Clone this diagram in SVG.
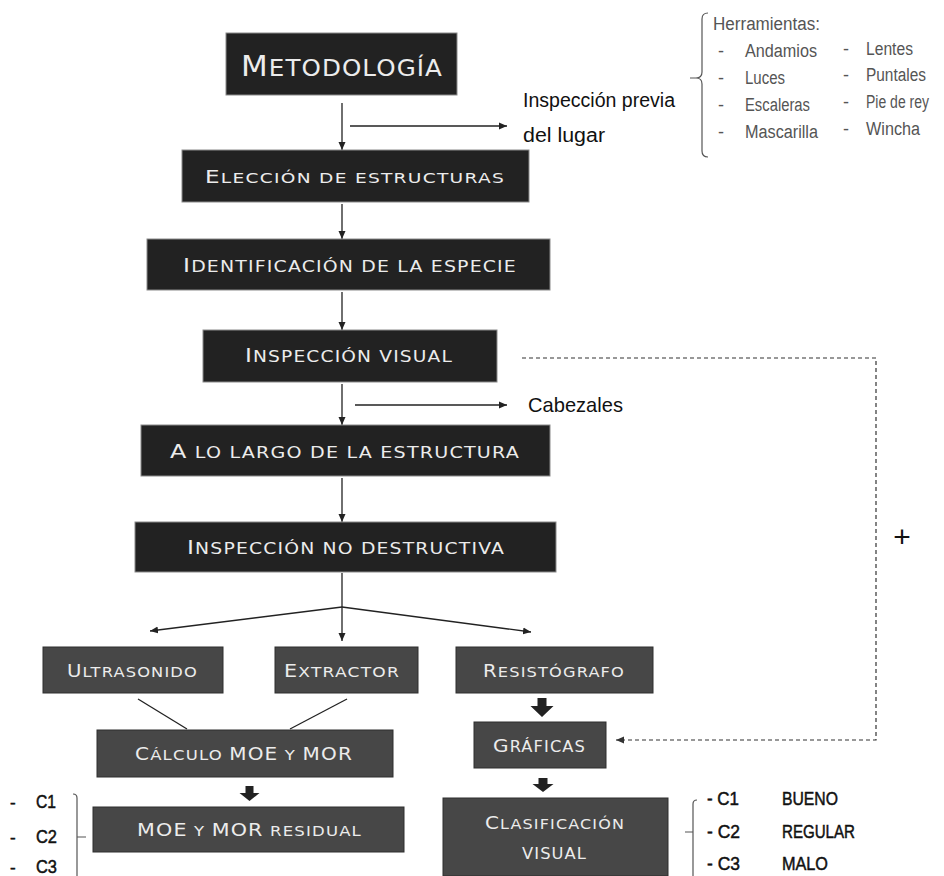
<svg xmlns="http://www.w3.org/2000/svg" width="944" height="876" viewBox="0 0 944 876">
<defs>
<marker id="ah" markerUnits="userSpaceOnUse" markerWidth="9" markerHeight="8" refX="8" refY="4" orient="auto">
<path d="M0,0.5 L8,4 L0,7.5 z" fill="#222"/>
</marker>
<marker id="ahd" markerUnits="userSpaceOnUse" markerWidth="9" markerHeight="8" refX="8" refY="4" orient="auto">
<path d="M0,0.5 L8,4 L0,7.5 z" fill="#333"/>
</marker>
</defs>
<style>
.bk{fill:#222222;stroke:#8a8a8a;stroke-width:1}
.gr{fill:#474747;stroke:#2e2e2e;stroke-width:1}
.lbl{font-family:"DejaVu Sans",sans-serif;fill:#ececec;letter-spacing:1px}
.ln{stroke:#222;stroke-width:1.3;fill:none}
.dash{stroke:#333;stroke-width:1.2;fill:none;stroke-dasharray:4 3}
.fat{fill:#222}
.br{stroke:#555;stroke-width:1.2;fill:none}
.blk{font-family:"Liberation Sans",sans-serif;fill:#111}
.bold{stroke:#111;stroke-width:0.5}
.gry{font-family:"Liberation Sans",sans-serif;fill:#555;font-size:18px}
</style>

<g id="connectors">
<line class="ln" x1="342" y1="103" x2="342" y2="150" marker-end="url(#ah)"/>
<line class="ln" x1="350" y1="126" x2="507" y2="126" marker-end="url(#ah)"/>
<line class="ln" x1="342" y1="204" x2="342" y2="239" marker-end="url(#ah)"/>
<line class="ln" x1="342" y1="292" x2="342" y2="330" marker-end="url(#ah)"/>
<line class="ln" x1="342" y1="384" x2="342" y2="425" marker-end="url(#ah)"/>
<line class="ln" x1="355" y1="405" x2="507" y2="405" marker-end="url(#ah)"/>
<line class="ln" x1="342" y1="478" x2="342" y2="522" marker-end="url(#ah)"/>
<line class="ln" x1="342" y1="573" x2="342" y2="607"/>
<line class="ln" x1="342" y1="607" x2="150" y2="631" marker-end="url(#ah)"/>
<line class="ln" x1="342" y1="607" x2="342" y2="641" marker-end="url(#ah)"/>
<line class="ln" x1="342" y1="607" x2="531" y2="632" marker-end="url(#ah)"/>
<line class="ln" x1="138" y1="699" x2="187" y2="729"/>
<line class="ln" x1="347" y1="699" x2="290" y2="729"/>
<path class="dash" d="M522,358 H876 V740 H616" marker-end="url(#ahd)"/>
<path class="fat" d="M245.5,786 h8 v7 h6 l-10,8 l-10,-8 h6 z"/>
<path class="fat" d="M537.5,698 h9 v8 h7 l-11.5,11 l-11.5,-11 h7 z"/>
<path class="fat" d="M538.5,778 h9 v6 h6 l-10.5,8 l-10.5,-8 h6 z"/>
</g>

<g id="n-metodologia">
<rect class="bk" x="226" y="33" width="231" height="62"/>
<text class="lbl" x="241" y="76" textLength="202" lengthAdjust="spacingAndGlyphs"><tspan font-size="29">M</tspan><tspan font-size="23">ETODOLOGÍA</tspan></text>
</g>

<g id="n-inspeccion-previa">
<text class="blk" font-size="20" x="523" y="107" textLength="152" lengthAdjust="spacingAndGlyphs">Inspección previa</text>
<text class="blk" font-size="20" x="523" y="142" textLength="82" lengthAdjust="spacingAndGlyphs">del lugar</text>
</g>

<g id="n-herramientas">
<path class="br" d="M708,13 Q702,13 702,19 V72 Q702,78 696,78 H690 M696,78 Q702,78 702,84 V151 Q702,157 708,157"/>
<text class="gry" x="713" y="30" textLength="107" lengthAdjust="spacingAndGlyphs">Herramientas:</text>
<text class="gry" x="718" y="57">-</text>
<text class="gry" x="718" y="84">-</text>
<text class="gry" x="718" y="111">-</text>
<text class="gry" x="718" y="138">-</text>
<text class="gry" x="745" y="57" textLength="72" lengthAdjust="spacingAndGlyphs">Andamios</text>
<text class="gry" x="745" y="84" textLength="40" lengthAdjust="spacingAndGlyphs">Luces</text>
<text class="gry" x="745" y="111" textLength="65" lengthAdjust="spacingAndGlyphs">Escaleras</text>
<text class="gry" x="745" y="138" textLength="73" lengthAdjust="spacingAndGlyphs">Mascarilla</text>
<text class="gry" x="843" y="55">-</text>
<text class="gry" x="843" y="81">-</text>
<text class="gry" x="843" y="108">-</text>
<text class="gry" x="843" y="135">-</text>
<text class="gry" x="866" y="55" textLength="47" lengthAdjust="spacingAndGlyphs">Lentes</text>
<text class="gry" x="866" y="81" textLength="60" lengthAdjust="spacingAndGlyphs">Puntales</text>
<text class="gry" x="866" y="108" font-size="15" textLength="63" lengthAdjust="spacingAndGlyphs">Pie de rey</text>
<text class="gry" x="866" y="135" textLength="54" lengthAdjust="spacingAndGlyphs">Wincha</text>
</g>

<g id="n-eleccion">
<rect class="bk" x="182" y="150" width="347" height="52"/>
<text class="lbl" x="205" y="183" textLength="300" lengthAdjust="spacingAndGlyphs"><tspan font-size="18">E</tspan><tspan font-size="14.5">LECCIÓN DE ESTRUCTURAS</tspan></text>
</g>

<g id="n-identificacion">
<rect class="bk" x="147" y="239" width="403" height="51"/>
<text class="lbl" x="183" y="272" textLength="334" lengthAdjust="spacingAndGlyphs"><tspan font-size="20">I</tspan><tspan font-size="16">DENTIFICACIÓN DE LA ESPECIE</tspan></text>
</g>

<g id="n-inspeccion-visual">
<rect class="bk" x="203" y="330" width="294" height="52"/>
<text class="lbl" x="245" y="362" textLength="208" lengthAdjust="spacingAndGlyphs"><tspan font-size="20">I</tspan><tspan font-size="16">NSPECCIÓN VISUAL</tspan></text>
</g>

<g id="n-cabezales">
<text class="blk" font-size="21" x="528" y="412" textLength="95" lengthAdjust="spacingAndGlyphs">Cabezales</text>
</g>

<g id="n-a-lo-largo">
<rect class="bk" x="141" y="425" width="409" height="51"/>
<text class="lbl" x="170" y="458" textLength="350" lengthAdjust="spacingAndGlyphs"><tspan font-size="20">A</tspan><tspan font-size="16"> LO LARGO DE LA ESTRUCTURA</tspan></text>
</g>

<g id="n-no-destructiva">
<rect class="bk" x="135" y="522" width="421" height="50"/>
<text class="lbl" x="187" y="554" textLength="318" lengthAdjust="spacingAndGlyphs"><tspan font-size="20">I</tspan><tspan font-size="16">NSPECCIÓN NO DESTRUCTIVA</tspan></text>
</g>

<g id="n-ultrasonido">
<rect class="gr" x="43" y="647" width="180" height="46"/>
<text class="lbl" x="67" y="677" textLength="131" lengthAdjust="spacingAndGlyphs"><tspan font-size="17">U</tspan><tspan font-size="14">LTRASONIDO</tspan></text>
</g>

<g id="n-extractor">
<rect class="gr" x="275" y="647" width="143" height="46"/>
<text class="lbl" x="284" y="677" textLength="116" lengthAdjust="spacingAndGlyphs"><tspan font-size="17">E</tspan><tspan font-size="14">XTRACTOR</tspan></text>
</g>

<g id="n-resistografo">
<rect class="gr" x="456" y="647" width="197" height="46"/>
<text class="lbl" x="483" y="677" textLength="142" lengthAdjust="spacingAndGlyphs"><tspan font-size="17">R</tspan><tspan font-size="14">ESISTÓGRAFO</tspan></text>
</g>

<g id="n-calculo">
<rect class="gr" x="97" y="730" width="296" height="47"/>
<text class="lbl" x="135" y="760" textLength="218" lengthAdjust="spacingAndGlyphs"><tspan font-size="17">C</tspan><tspan font-size="14">ÁLCULO </tspan><tspan font-size="17">MOE</tspan><tspan font-size="14"> Y </tspan><tspan font-size="17">MOR</tspan></text>
</g>

<g id="n-graficas">
<rect class="gr" x="474" y="722" width="132" height="46"/>
<text class="lbl" x="493" y="752" textLength="93" lengthAdjust="spacingAndGlyphs"><tspan font-size="18.5">G</tspan><tspan font-size="15">RÁFICAS</tspan></text>
</g>

<g id="n-moe-residual">
<rect class="gr" x="93" y="807" width="311" height="45"/>
<text class="lbl" x="137" y="836" textLength="225" lengthAdjust="spacingAndGlyphs"><tspan font-size="17.5">MOE</tspan><tspan font-size="14"> Y </tspan><tspan font-size="17.5">MOR</tspan><tspan font-size="14"> RESIDUAL</tspan></text>
</g>

<g id="n-clasificacion">
<rect class="gr" x="443" y="798" width="225" height="78"/>
<text class="lbl" x="485" y="829" textLength="140" lengthAdjust="spacingAndGlyphs"><tspan font-size="17.5">C</tspan><tspan font-size="14">LASIFICACIÓN</tspan></text>
<text class="lbl" x="522" y="859" font-size="15" textLength="65" lengthAdjust="spacingAndGlyphs">VISUAL</text>
</g>

<g id="n-c-left">
<path class="br" d="M73,794 Q77,794 77,798 V876 M77,837 H86"/>
<text class="blk bold" font-size="17" x="10" y="808">-</text>
<text class="blk bold" font-size="17" x="10" y="843">-</text>
<text class="blk bold" font-size="17" x="10" y="873">-</text>
<text class="blk bold" font-size="18" x="36" y="808" textLength="20" lengthAdjust="spacingAndGlyphs">C1</text>
<text class="blk bold" font-size="18" x="36" y="843" textLength="21" lengthAdjust="spacingAndGlyphs">C2</text>
<text class="blk bold" font-size="18" x="36" y="873" textLength="21" lengthAdjust="spacingAndGlyphs">C3</text>
</g>

<g id="n-c-right">
<path class="br" d="M697,800 Q693,800 693,804 V876 M693,832 H685"/>
<text class="blk bold" font-size="19" x="707" y="805" textLength="32" lengthAdjust="spacingAndGlyphs">- C1</text>
<text class="blk bold" font-size="19" x="707" y="838" textLength="33" lengthAdjust="spacingAndGlyphs">- C2</text>
<text class="blk bold" font-size="19" x="707" y="870" textLength="33" lengthAdjust="spacingAndGlyphs">- C3</text>
<text class="blk bold" font-size="19" x="782" y="805" textLength="56" lengthAdjust="spacingAndGlyphs">BUENO</text>
<text class="blk bold" font-size="19" x="782" y="838" textLength="73" lengthAdjust="spacingAndGlyphs">REGULAR</text>
<text class="blk bold" font-size="19" x="782" y="870" textLength="46" lengthAdjust="spacingAndGlyphs">MALO</text>
</g>

<g id="n-plus">
<text class="blk" font-size="30" x="902" y="547" text-anchor="middle">+</text>
</g>
</svg>
